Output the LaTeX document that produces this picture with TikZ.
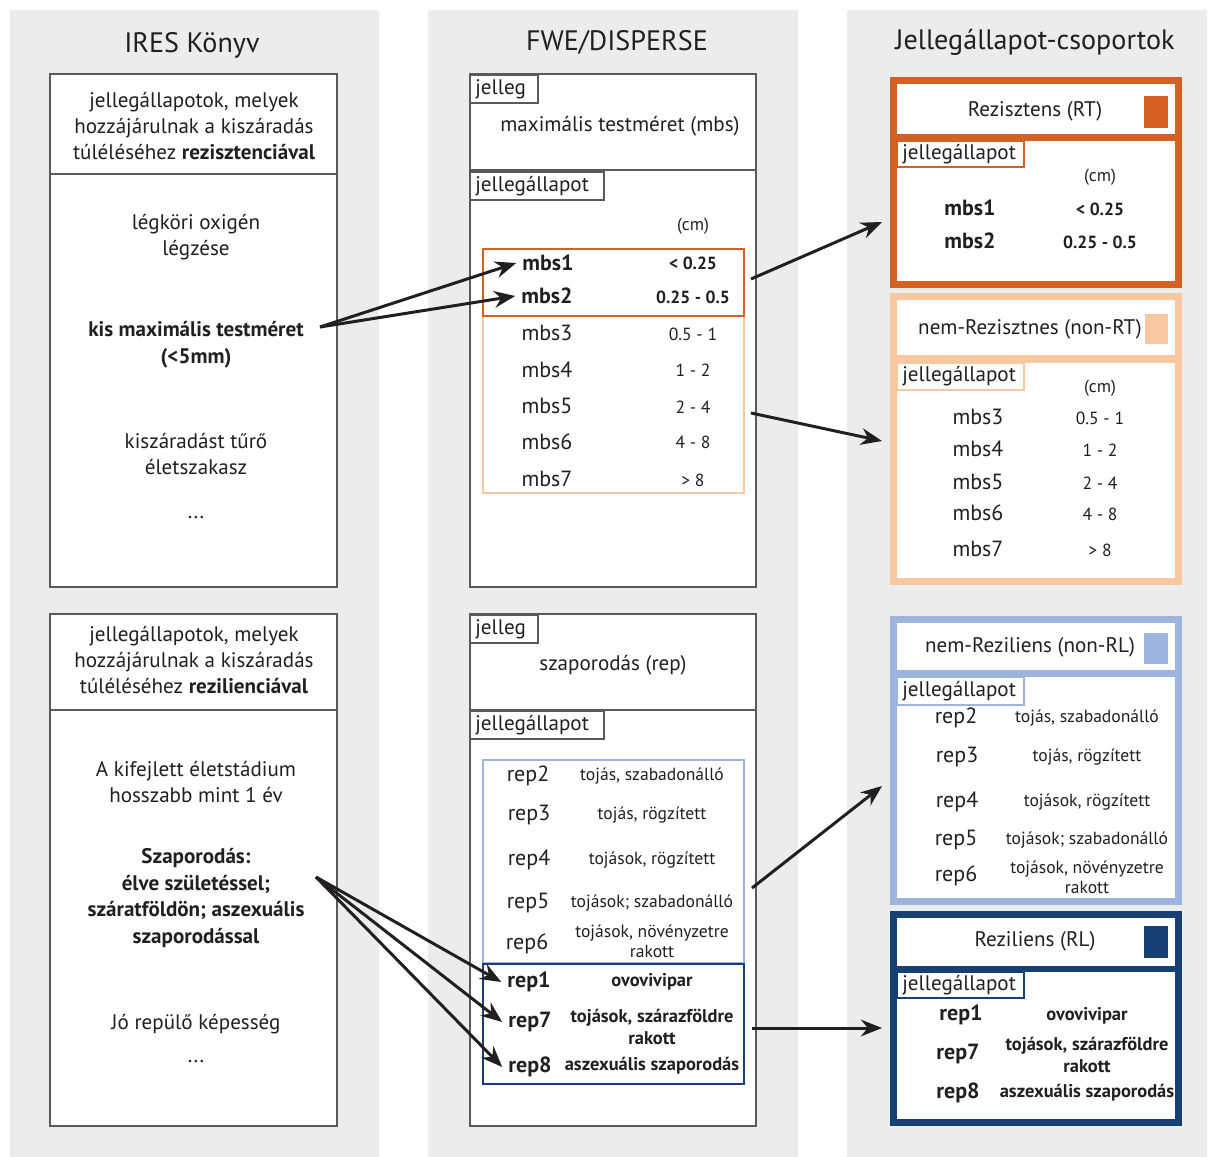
\documentclass[tikz,border=0pt]{standalone}
\usepackage{fontspec}
\setmainfont{PT Sans}
\usetikzlibrary{arrows.meta}
\usetikzlibrary{positioning}
\definecolor{bg-gray}{RGB}{235, 236, 236}
\definecolor{ink}{RGB}{35, 31, 32}
\definecolor{frame-gray}{RGB}{90, 90, 90}
\definecolor{rt-orange}{RGB}{212, 96, 34}
\definecolor{nonrt-orange}{RGB}{249, 200, 160}
\definecolor{nonrl-blue}{RGB}{157, 181, 222}
\definecolor{rl-blue}{RGB}{22, 63, 115}
\tikzset{
  coltitle/.style={font=\fontsize{16}{18}\selectfont, text=ink},
  bodytxt/.style={font=\fontsize{12}{15}\selectfont, text=ink, align=center},
  bodybold/.style={font=\fontsize{12}{15.3}\selectfont\bfseries, text=ink, align=center},
  tagtxt/.style={font=\fontsize{12}{14}\selectfont, text=ink, anchor=west, inner sep=0pt},
  grptxt/.style={font=\fontsize{12}{14}\selectfont, text=ink},
  stname/.style={font=\fontsize{12.5}{14}\selectfont, text=ink},
  stnameb/.style={font=\fontsize{12.5}{14}\selectfont\bfseries, text=ink},
  stval/.style={font=\fontsize{10}{12}\selectfont, text=ink},
  stvalb/.style={font=\fontsize{10}{12}\selectfont\bfseries, text=ink},
  stdesc/.style={font=\fontsize{10}{11.5}\selectfont, text=ink, align=center},
  stdescb/.style={font=\fontsize{10.5}{12}\selectfont\bfseries, text=ink, align=center},
  link/.style={draw=ink, line width=1.7pt, -{Stealth[length=12pt, width=9.5pt]}}
}

\begin{document}
\begin{tikzpicture}[x=0.02cm, y=-0.02cm]
\useasboundingbox (0,0) rectangle (1208,1157);
\fill[bg-gray] (10,10) rectangle (379,1157);
\fill[bg-gray] (428,10) rectangle (798,1157);
\fill[bg-gray] (847,10) rectangle (1207,1157);

\node[coltitle] (ires) at (192,45) {IRES Könyv};
\node[coltitle] (fwe) at (617,42) {FWE/DISPERSE};
\node[coltitle] (csop) at (1035,42) {Jellegállapot-csoportok};

% IRES Konyv
\filldraw[fill=white, draw=frame-gray, line width=0.7pt] (50,74) rectangle (337,587);
\draw[frame-gray, line width=0.7pt] (50,174) -- (337,174);
\filldraw[fill=white, draw=frame-gray, line width=0.7pt] (50,614) rectangle (337,1126);
\draw[frame-gray, line width=0.7pt] (50,710) -- (337,710);

\node[bodytxt] (resfej) at (194,126) {jellegállapotok, melyek\\hozzájárulnak a kiszáradás\\túléléséhez \textbf{rezisztenciával}};
\node[bodytxt] (legkor) at (196,237) {légköri oxigén\\légzése};
\node[bodybold] (kis) at (196,345) {kis maximális testméret\\(<5mm)};
\node[bodytxt] (tur) at (196,454) {kiszáradást tűrő\\életszakasz};
\node[bodytxt] (pont1) at (196,518) {...};

\node[bodytxt] (relfej) at (194,660) {jellegállapotok, melyek\\hozzájárulnak a kiszáradás\\túléléséhez \textbf{rezilienciával}};
\node[bodytxt] (kifejlett) at (196,782) {A kifejlett életstádium\\hosszabb mint 1 év};
\node[bodybold] (szap) at (196,898) {Szaporodás:\\élve születéssel;\\száratföldön; aszexuális\\szaporodással};
\node[bodytxt] (jorep) at (196,1024) {Jó repülő képesség};
\node[bodytxt] (pont2) at (196,1062) {...};

% FWE/DISPERSE, mbs
\filldraw[fill=white, draw=frame-gray, line width=0.7pt] (470,74) rectangle (756,587);
\draw[frame-gray, line width=0.7pt] (470,170) -- (756,170);
\filldraw[fill=white, draw=frame-gray, line width=0.7pt] (470,75) rectangle (538,103);
\node[tagtxt] (jel1) at (475,89) {jelleg};
\node[bodytxt] (mbsnev) at (620,126) {maximális testméret (mbs)};
\filldraw[fill=white, draw=frame-gray, line width=0.7pt] (470,172) rectangle (604,200);
\node[tagtxt] (jall1) at (475,186) {jellegállapot};
\node[stval] (cm1) at (693,226) {(cm)};
\draw[nonrt-orange, line width=1.3pt] (483,316) rectangle (744,493);
\draw[rt-orange, line width=1.3pt] (483,249) rectangle (744,316);

\node[stnameb] (mbsa1) at (548,263) {mbs1};
\node[stvalb] (vala1) at (693,263) {< 0.25};
\node[stnameb] (mbsa2) at (547,296) {mbs2};
\node[stvalb] (vala2) at (693,297) {0.25 - 0.5};
\node[stname] (mbsa3) at (547,333) {mbs3};
\node[stval] (vala3) at (693,334) {0.5 - 1};
\node[stname] (mbsa4) at (547,370) {mbs4};
\node[stval] (vala4) at (693,370) {1 - 2};
\node[stname] (mbsa5) at (547,406) {mbs5};
\node[stval] (vala5) at (693,407) {2 - 4};
\node[stname] (mbsa6) at (547,442) {mbs6};
\node[stval] (vala6) at (693,442) {4 - 8};
\node[stname] (mbsa7) at (547,479) {mbs7};
\node[stval] (vala7) at (693,480) {> 8};

% FWE/DISPERSE, rep
\filldraw[fill=white, draw=frame-gray, line width=0.7pt] (470,614) rectangle (756,1126);
\draw[frame-gray, line width=0.7pt] (470,710) -- (756,710);
\filldraw[fill=white, draw=frame-gray, line width=0.7pt] (470,615) rectangle (538,643);
\node[tagtxt] (jel2) at (475,629) {jelleg};
\node[bodytxt] (repnev) at (613,665) {szaporodás (rep)};
\filldraw[fill=white, draw=frame-gray, line width=0.7pt] (470,711) rectangle (604,739);
\node[tagtxt] (jall2) at (475,725) {jellegállapot};
\draw[nonrl-blue, line width=1.3pt] (483,760) rectangle (744,963);
\draw[rl-blue, line width=1.3pt] (483,964) rectangle (744,1084);

\node[stname] (repa2) at (528,776) {rep2};
\node[stdesc] (desa2) at (652,776) {tojás, szabadonálló};
\node[stname] (repa3) at (529,815) {rep3};
\node[stdesc] (desa3) at (652,815) {tojás, rögzített};
\node[stname] (repa4) at (529,860) {rep4};
\node[stdesc] (desa4) at (652,860) {tojások, rögzített};
\node[stname] (repa5) at (528,903) {rep5};
\node[stdesc] (desa5) at (652,903) {tojások; szabadonálló};
\node[stname] (repa6) at (527,944) {rep6};
\node[stdesc] (desa6) at (652,941) {tojások, növényzetre\\rakott};
\node[stnameb] (repa1) at (529,982) {rep1};
\node[stdescb] (desa1) at (652,982) {ovovivipar};
\node[stnameb] (repa7) at (530,1022) {rep7};
\node[stdescb] (desa7) at (652,1027) {tojások, szárazföldre\\rakott};
\node[stnameb] (repa8) at (530,1067) {rep8};
\node[stdescb] (desa8) at (652,1066) {aszexuális szaporodás};

% Rezisztens (RT)
\fill[rt-orange] (890,77) rectangle (1182,288);
\fill[white] (897,84) rectangle (1175,134);
\fill[white] (897,141) rectangle (1175,281);
\fill[rt-orange] (1144,96) rectangle (1168,128);
\node[grptxt] (rt) at (1035,111) {Rezisztens (RT)};
\filldraw[fill=white, draw=rt-orange, line width=1pt] (897,141) rectangle (1024,167);
\node[tagtxt] (jall3) at (902,154) {jellegállapot};
\node[stval] (cm3) at (1100,177) {(cm)};
\node[stnameb] (mbsb1) at (970,208) {mbs1};
\node[stvalb] (valb1) at (1100,209) {< 0.25};
\node[stnameb] (mbsb2) at (970,241) {mbs2};
\node[stvalb] (valb2) at (1100,242) {0.25 - 0.5};

% nem-Rezisztnes (non-RT)
\fill[nonrt-orange] (890,293) rectangle (1182,585);
\fill[white] (897,300) rectangle (1175,355);
\fill[white] (897,363) rectangle (1175,578);
\fill[nonrt-orange] (1145,314) rectangle (1168,344);
\node[grptxt] (nonrt) at (1030,329) {nem-Rezisztnes (non-RT)};
\filldraw[fill=white, draw=nonrt-orange, line width=1pt] (897,363) rectangle (1024,390);
\node[tagtxt] (jall4) at (902,376) {jellegállapot};
\node[stval] (cm4) at (1100,388) {(cm)};
\node[stname] (mbsb3) at (978,417) {mbs3};
\node[stval] (valb3) at (1100,418) {0.5 - 1};
\node[stname] (mbsb4) at (978,449) {mbs4};
\node[stval] (valb4) at (1100,450) {1 - 2};
\node[stname] (mbsb5) at (978,482) {mbs5};
\node[stval] (valb5) at (1100,483) {2 - 4};
\node[stname] (mbsb6) at (978,513) {mbs6};
\node[stval] (valb6) at (1100,514) {4 - 8};
\node[stname] (mbsb7) at (978,549) {mbs7};
\node[stval] (valb7) at (1100,550) {> 8};

% nem-Reziliens (non-RL)
\fill[nonrl-blue] (890,616) rectangle (1182,905);
\fill[white] (897,623) rectangle (1175,670);
\fill[white] (897,677) rectangle (1175,898);
\fill[nonrl-blue] (1144,633) rectangle (1168,664);
\node[grptxt] (nonrl) at (1030,647) {nem-Reziliens (non-RL)};
\filldraw[fill=white, draw=nonrl-blue, line width=1pt] (897,677) rectangle (1024,705);
\node[tagtxt] (jall5) at (902,691) {jellegállapot};
\node[stname] (repb2) at (956,718) {rep2};
\node[stdesc] (desb2) at (1087,718) {tojás, szabadonálló};
\node[stname] (repb3) at (957,757) {rep3};
\node[stdesc] (desb3) at (1087,757) {tojás, rögzített};
\node[stname] (repb4) at (957,802) {rep4};
\node[stdesc] (desb4) at (1087,802) {tojások, rögzített};
\node[stname] (repb5) at (956,840) {rep5};
\node[stdesc] (desb5) at (1087,840) {tojások; szabadonálló};
\node[stname] (repb6) at (956,876) {rep6};
\node[stdesc] (desb6) at (1087,877) {tojások, növényzetre\\rakott};

% Reziliens (RL)
\fill[rl-blue] (890,911) rectangle (1182,1126);
\fill[white] (897,918) rectangle (1175,966);
\fill[white] (897,972) rectangle (1175,1119);
\fill[rl-blue] (1144,926) rectangle (1168,958);
\node[grptxt] (rl) at (1035,941) {Reziliens (RL)};
\filldraw[fill=white, draw=rl-blue, line width=1pt] (897,972) rectangle (1024,998);
\node[tagtxt] (jall6) at (902,985) {jellegállapot};
\node[stnameb] (repb1) at (961,1015) {rep1};
\node[stdescb] (desb1) at (1087,1016) {ovovivipar};
\node[stnameb] (repb7) at (958,1054) {rep7};
\node[stdescb] (desb7) at (1087,1055) {tojások, szárazföldre\\rakott};
\node[stnameb] (repb8) at (958,1093) {rep8};
\node[stdescb] (desb8) at (1087,1093) {aszexuális szaporodás};

% nyilak
\coordinate (kisout) at (320,327);
\coordinate (szapout) at (316,877);
\coordinate (rtout) at (751,279);
\coordinate (rtin) at (882,222);
\coordinate (nonrtout) at (751,413);
\coordinate (nonrtin) at (882,441);
\coordinate (nonrlout) at (752,888);
\coordinate (nonrlin) at (882,786);
\coordinate (rlout) at (752,1028);
\coordinate (rlin) at (882,1028);

\draw[link] (kisout) -- (mbsa1.west);
\draw[link] (kisout) -- (mbsa2.west);
\draw[link] (szapout) -- (repa1.west);
\draw[link] (szapout) -- (repa7.west);
\draw[link] (szapout) -- (repa8.west);
\draw[link] (rtout) -- (rtin);
\draw[link] (nonrtout) -- (nonrtin);
\draw[link] (nonrlout) -- (nonrlin);
\draw[link] (rlout) -- (rlin);
\end{tikzpicture}
\end{document}
